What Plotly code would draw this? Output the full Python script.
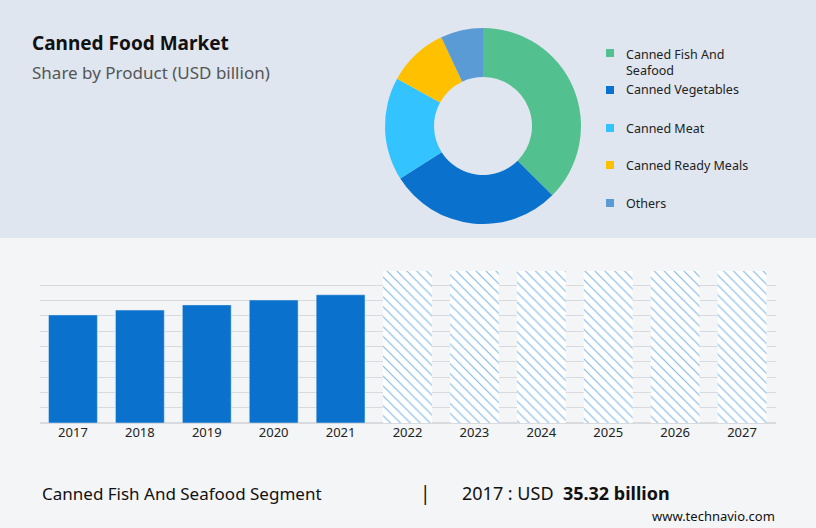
import plotly.graph_objects as go

years = ["2017","2018","2019","2020","2021","2022","2023","2024","2025","2026","2027"]
actual = [35.32, 36.9, 38.6, 40.2, 41.9, None, None, None, None, None, None]
forecast = [None, None, None, None, None, 49.7, 49.7, 49.7, 49.7, 49.7, 49.7]
seg_labels = ["Canned Fish And Seafood", "Canned Vegetables", "Canned Meat", "Canned Ready Meals", "Others"]
seg_values = [37.5, 28.5, 17, 10, 7]
seg_colors = ["#52c08f", "#0a72cc", "#33c3ff", "#ffc000", "#5b9bd5"]

W, H = 816, 528
fx = lambda px: px / W
fy = lambda py: 1 - py / H
F = "Noto Sans"

fig = go.Figure()
fig.add_trace(go.Bar(x=years, y=actual, marker_color="#0a72cc", width=0.73, showlegend=False))
fig.add_trace(go.Bar(x=years, y=forecast, width=0.73, showlegend=False,
                     marker=dict(color="white", line=dict(width=0),
                                 pattern=dict(shape="\\", fgcolor="#0a72cc", bgcolor="white", size=7, solidity=0.17))))
fig.add_trace(go.Pie(labels=seg_labels, values=seg_values, hole=0.5, sort=False, direction="clockwise",
                     rotation=0, marker=dict(colors=seg_colors, line=dict(width=0)), textinfo="none",
                     showlegend=False, domain=dict(x=[fx(385), fx(581)], y=[fy(224), fy(28)])))

fig.update_layout(
    width=W, height=H, margin=dict(l=0, r=0, t=0, b=0),
    paper_bgcolor="#f4f5f7", plot_bgcolor="#f4f5f7", barmode="overlay",
    font=dict(family=F, color="#222"),
    xaxis=dict(domain=[fx(39.5), fx(775.5)], showline=False, ticks="", tickfont=dict(size=13, color="#222"), showgrid=False),
    yaxis=dict(domain=[fy(423), fy(270)], range=[0, 50], dtick=5, showticklabels=False,
               gridcolor="#d8dadd", gridwidth=1, zeroline=True, zerolinecolor="#d8dadd"),
)
fig.add_shape(type="line", xref="paper", yref="paper", x0=fx(30), x1=fx(39.5), y0=fy(270), y1=fy(270), line=dict(width=0))
fig.add_shape(type="rect", xref="paper", yref="paper", x0=0, x1=1, y0=fy(238), y1=1,
              fillcolor="#dfe6ef", line_width=0, layer="below")

ann = []
ann.append(dict(x=fx(30), y=fy(43), text="<b>Canned Food Market</b>", font=dict(size=19, color="#111")))
ann.append(dict(x=fx(30), y=fy(73), text="Share by Product (USD billion)", font=dict(size=17, color="#555")))
leg_y = [(53, "Canned Fish And<br>Seafood", 62), (90, "Canned Vegetables", 90), (128, "Canned Meat", 128),
         (165, "Canned Ready Meals", 165), (203, "Others", 203)]
for (my, txt, ty), c in zip(leg_y, seg_colors):
    fig.add_shape(type="rect", xref="paper", yref="paper", x0=fx(606), x1=fx(614), y0=fy(my + 4), y1=fy(my - 4),
                  fillcolor=c, line_width=0)
    ann.append(dict(x=fx(624), y=fy(ty), text=txt, font=dict(size=12.5, color="#222"), align="left"))
ann.append(dict(x=fx(40), y=fy(493), text="Canned Fish And Seafood Segment", font=dict(size=17, color="#111")))
ann.append(dict(x=fx(418), y=fy(493), text="|", font=dict(size=19, color="#111")))
ann.append(dict(x=fx(460), y=fy(493), text="2017 : USD  <b>35.32 billion</b>", font=dict(size=18, color="#111")))
ann.append(dict(x=fx(650), y=fy(516), text="www.technavio.com", font=dict(size=13, color="#111")))
for a in ann:
    a.update(xref="paper", yref="paper", xanchor="left", yanchor="middle", showarrow=False)
fig.update_layout(annotations=ann)
fig.write_html("out.html", config={"displayModeBar": False},
               post_script="document.body.style.margin='0';document.body.style.padding='0';")
